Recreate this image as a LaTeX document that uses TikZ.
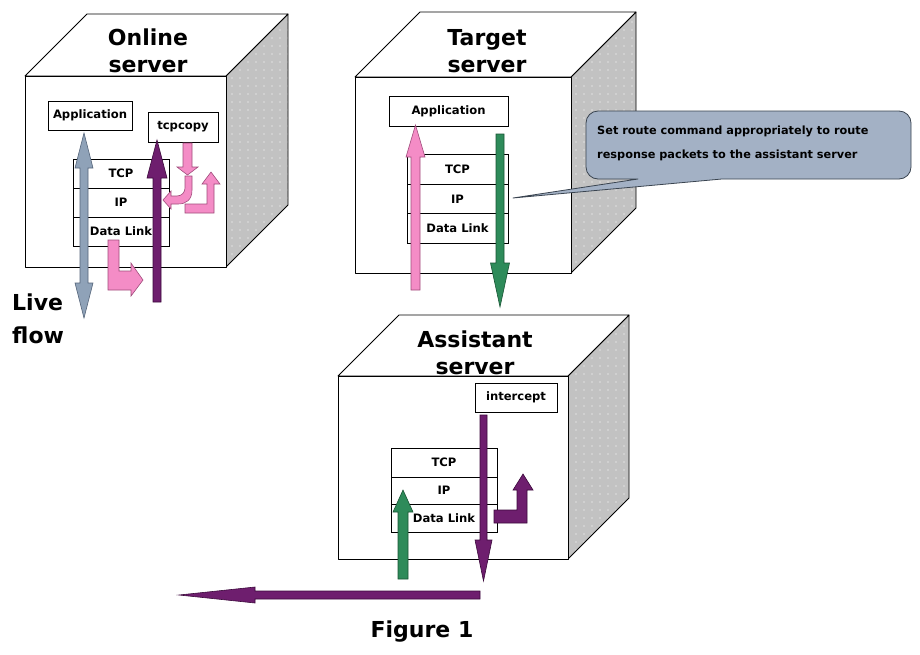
\documentclass[tikz,border=0pt]{standalone}
\usepackage{fontspec}
\setmainfont{DejaVu Sans}
\usetikzlibrary{patterns.meta}
\definecolor{pinkF}{HTML}{F48CC6}
\definecolor{pinkD}{HTML}{A04C7C}
\definecolor{purpF}{HTML}{6E1E6E}
\definecolor{purpD}{HTML}{3C0A3C}
\definecolor{greenF}{HTML}{2E8B5A}
\definecolor{greenD}{HTML}{1A5535}
\definecolor{gblueF}{HTML}{8FA2B8}
\definecolor{gblueD}{HTML}{55657A}
\definecolor{sideF}{HTML}{C2C2C2}
\definecolor{callF}{HTML}{A3B1C5}
\definecolor{callD}{HTML}{3A4450}
\tikzset{
  face/.style={fill=white, draw=black, line width=0.8pt, line join=round},
  sidefill/.style={fill=sideF},
  dotfill/.style={pattern={Dots[distance=8pt,radius=0.6pt]}, pattern color=white},
  boxn/.style={draw=black, fill=white, line width=0.8pt, inner sep=0pt,
    font=\bfseries\fontsize{11.6}{13}\selectfont},
  titletext/.style={font=\bfseries\fontsize{22}{27}\selectfont, align=center, inner sep=0pt},
  pinkarr/.style={fill=pinkF, draw=pinkD, line width=0.6pt, line join=miter},
  purparr/.style={fill=purpF, draw=purpD, line width=0.6pt, line join=miter},
  greenarr/.style={fill=greenF, draw=greenD, line width=0.6pt, line join=miter},
  gbluearr/.style={fill=gblueF, draw=gblueD, line width=0.6pt, line join=miter},
  calloutshape/.style={fill=callF, draw=callD, line width=0.8pt, line join=round},
}
% vertical block arrow: style, x, y tail, y head base, y tip, shaft width, head width
\newcommand{\vblk}[7]{\filldraw[#1] ({#2-#6/2},#3) -- ({#2-#6/2},#4) -- ({#2-#7/2},#4) -- (#2,#5)
  -- ({#2+#7/2},#4) -- ({#2+#6/2},#4) -- ({#2+#6/2},#3) -- cycle;}
% horizontal block arrow: style, y, x tail, x head base, x tip, shaft width, head width
\newcommand{\hblk}[7]{\filldraw[#1] (#3,{#2-#6/2}) -- (#4,{#2-#6/2}) -- (#4,{#2-#7/2}) -- (#5,#2)
  -- (#4,{#2+#7/2}) -- (#4,{#2+#6/2}) -- (#3,{#2+#6/2}) -- cycle;}
% server cube: front x1, y1, x2, y2, depth
\newcommand{\srvcube}[5]{%
  \fill[sidefill] (#3,#2) -- ({#3+#5},{#2-#5}) -- ({#3+#5},{#4-#5}) -- (#3,#4) -- cycle;
  \fill[dotfill] (#3,#2) -- ({#3+#5},{#2-#5}) -- ({#3+#5},{#4-#5}) -- (#3,#4) -- cycle;
  \draw[line width=0.8pt, line join=round] (#3,#2) -- ({#3+#5},{#2-#5}) -- ({#3+#5},{#4-#5}) -- (#3,#4);
  \filldraw[face] (#1,#2) -- ({#1+#5},{#2-#5}) -- ({#3+#5},{#2-#5}) -- (#3,#2) -- cycle;
  \filldraw[face] (#1,#2) rectangle (#3,#4);}
\begin{document}
\begin{tikzpicture}[x=1pt,y=-1pt]
\useasboundingbox[fill=white] (0,0) rectangle (920,654);

% ---------------- cubes
\srvcube{25}{76}{226}{267}{62}
\srvcube{355}{77}{571}{273}{65}
\srvcube{338}{376}{568}{559}{61}

% ---------------- Online server
\node[boxn, minimum width=84pt, minimum height=29pt] (oapp) at (90,115.5) {Application};
\node[boxn, minimum width=70pt, minimum height=30pt] (otcpcopy) at (183,127) {tcpcopy};
\node[boxn, minimum width=96pt, minimum height=29pt] (otcp) at (121,173.5) {TCP};
\node[boxn, minimum width=96pt, minimum height=29pt] (oip) at (121,202.5) {IP};
\node[boxn, minimum width=96pt, minimum height=29pt] (odl) at (121,231.5) {Data Link};

% live flow double arrow
\filldraw[gbluearr] (84,133) -- (93,168) -- (88,168) -- (88,283) -- (93,283) -- (84,318)
  -- (75,283) -- (80,283) -- (80,168) -- (75,168) -- cycle;
% purple up arrow
\vblk{purparr}{157}{302}{178}{140}{8}{20}
% pink arrows
\vblk{pinkarr}{187.5}{143}{167}{175}{9}{21}
\filldraw[pinkarr] (185,176) -- (192,176) -- (192,190) .. controls (192,200) and (186,204) .. (178,204)
  -- (171,204) -- (171,209) -- (163,200) -- (171,191) -- (171,196) -- (177,196)
  .. controls (182,196) and (185,192) .. (185,188) -- cycle;
\filldraw[pinkarr] (185,204) -- (207,204) -- (207,184) -- (202,184) -- (211,172) -- (220,184)
  -- (214,184) -- (214,213) -- (185,213) -- cycle;
\filldraw[pinkarr] (108,240) -- (119,240) -- (119,271) -- (131,271) -- (131,263) -- (143,280)
  -- (131,296) -- (131,290) -- (108,290) -- cycle;

\node[titletext] (ontitle) at (148,51) {Online\\server};
\node[titletext, align=left, anchor=west, font=\bfseries\fontsize{22}{33}\selectfont] (live) at (12,319) {Live\\flow};

% ---------------- Target server
\node[boxn, minimum width=119pt, minimum height=30pt] (tapp) at (448.5,111) {Application};
\node[boxn, minimum width=101pt, minimum height=29.3pt] (ttcp) at (457.5,169.5) {TCP};
\node[boxn, minimum width=101pt, minimum height=29.3pt] (tip) at (457.5,199) {IP};
\node[boxn, minimum width=101pt, minimum height=29.3pt] (tdl) at (457.5,228.5) {Data Link};
\vblk{pinkarr}{415.5}{290}{157}{125}{9}{19}
\vblk{greenarr}{500}{134}{263}{307}{8}{19}
\node[titletext] (tgtitle) at (487,51.5) {Target\\server};

% ---------------- Assistant server
\node[boxn, minimum width=82pt, minimum height=29pt] (aint) at (516,397.5) {intercept};
\node[boxn, minimum width=106pt, minimum height=29pt] (atcp) at (444,462.5) {TCP};
\node[boxn, minimum width=106pt, minimum height=27pt] (aip) at (444,490.5) {IP};
\node[boxn, minimum width=106pt, minimum height=28pt] (adl) at (444,518) {Data Link};
\vblk{purparr}{483.5}{415}{540}{581}{7}{17}
\vblk{greenarr}{403}{579}{512}{490}{10}{20}
\filldraw[purparr] (494,510) -- (517,510) -- (517,490) -- (513,490) -- (523,474) -- (533,490)
  -- (527,490) -- (527,523) -- (494,523) -- cycle;
\hblk{purparr}{595}{480}{255}{179}{8}{16}
\node[titletext] (astitle) at (475,352.5) {Assistant\\server};

% ---------------- callout
\filldraw[calloutshape, rounded corners=12pt] (722,179) -- (911,179) -- (911,111) -- (586,111)
  -- (586,179) [sharp corners] -- (638,179) -- (513,198) -- cycle;
\node[anchor=west, align=left, inner sep=0pt, font=\bfseries\fontsize{11.3}{24}\selectfont] (callout) at (597,143)
  {Set route command appropriately to route\\response packets to the assistant server};

% ---------------- caption
\node[titletext] (caption) at (422,632) {Figure 1};
\end{tikzpicture}
\end{document}
